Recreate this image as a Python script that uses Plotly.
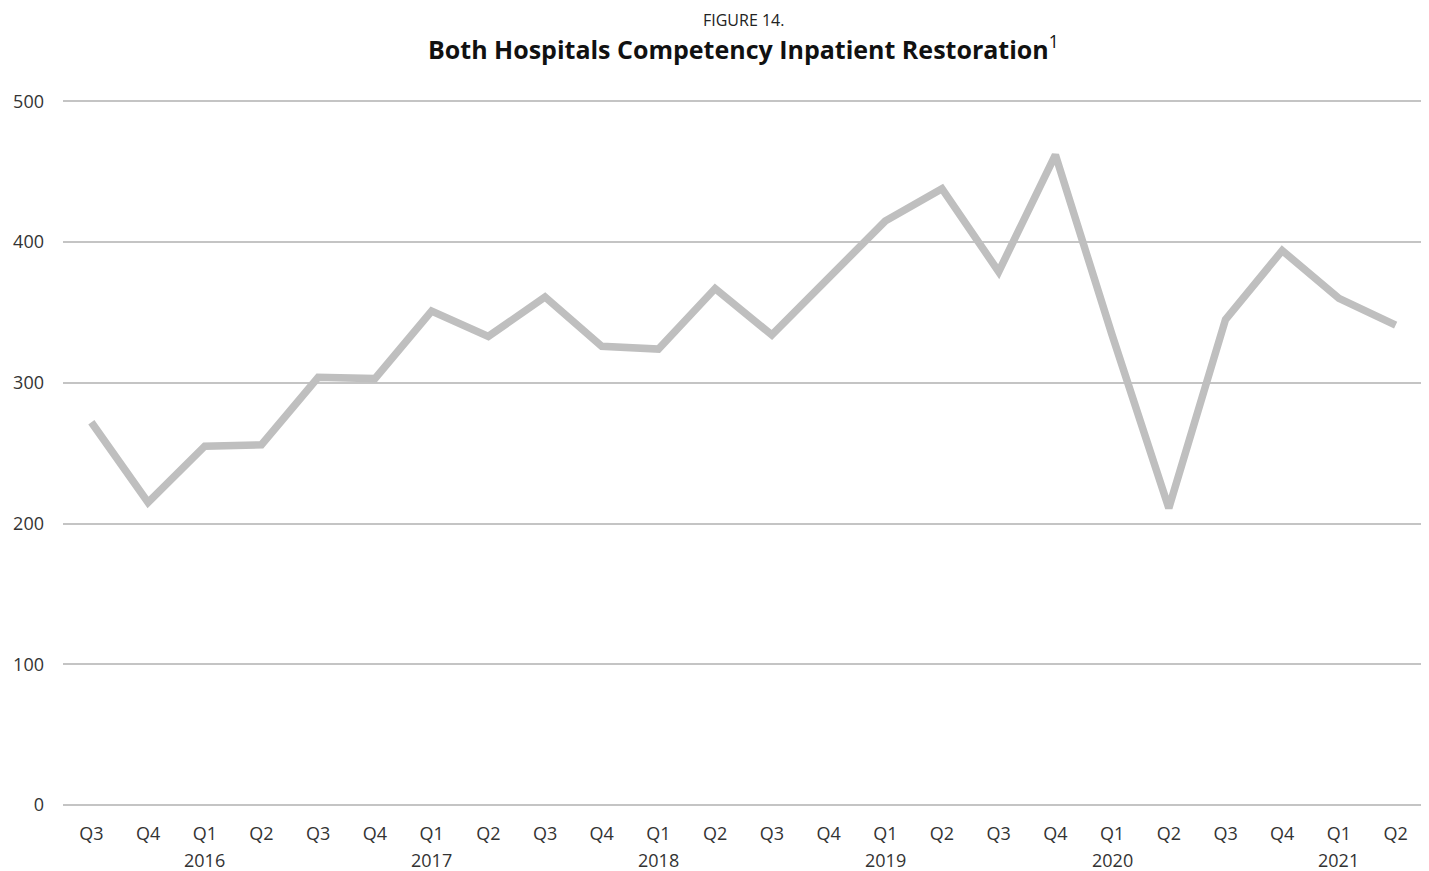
import plotly.graph_objects as go

# Quarterly inpatient restoration counts, Q3 2015 .. Q2 2021
QUARTERS = ['Q3', 'Q4', 'Q1', 'Q2', 'Q3', 'Q4', 'Q1', 'Q2', 'Q3', 'Q4', 'Q1', 'Q2',
            'Q3', 'Q4', 'Q1', 'Q2', 'Q3', 'Q4', 'Q1', 'Q2', 'Q3', 'Q4', 'Q1', 'Q2']
YEARS = ['', '', '2016', '', '', '', '2017', '', '', '', '2018', '',
         '', '', '2019', '', '', '', '2020', '', '', '', '2021', '']
PATIENTS = [272, 215, 255, 256, 304, 303, 351, 333, 361, 326, 324, 367,
            334, 375, 415, 438, 379, 462, 334, 211, 345, 394, 360, 341]

LINE_GREY = '#bfbfbf'
FONT = '"Open Sans", "Noto Sans", sans-serif'
xs = list(range(len(PATIENTS)))

fig = go.Figure()
fig.add_trace(go.Scatter(
    x=xs,
    y=PATIENTS,
    mode='lines',
    line=dict(color=LINE_GREY, width=7.5),
    hoverinfo='y'
))

# year labels under the Q1 ticks
year_notes = [
    dict(text=y, x=i, y=0, xref='x', yref='paper', yanchor='middle',
         yshift=-55, showarrow=False, font=dict(size=18, color='#333'))
    for i, y in zip(xs, YEARS) if y
]

fig.update_layout(
    width=1421,
    height=863,
    margin=dict(t=92, b=66, l=50, r=5),
    plot_bgcolor='#ffffff',
    paper_bgcolor='#ffffff',
    font=dict(family=FONT, color='#333', size=18),
    showlegend=False,
    annotations=[
        dict(text='FIGURE 14.', x=0.5, y=1, xref='paper', yref='paper',
             yanchor='middle', yshift=80, showarrow=False,
             font=dict(size=16, color='#222')),
        dict(text='<b>Both Hospitals Competency Inpatient Restoration</b><sup>1</sup>',
             x=0.5, y=1, xref='paper', yref='paper', yanchor='middle',
             yshift=53, showarrow=False, font=dict(size=25, color='#111')),
    ] + year_notes
)

fig.update_xaxes(
    range=[-0.5, len(PATIENTS) - 0.5],
    tickmode='array',
    tickvals=xs,
    ticktext=QUARTERS,
    showgrid=False,
    zeroline=False,
    showline=False,
    ticks='',
    tickfont=dict(size=18, color='#333'),
    ticklabelstandoff=16
)
fig.update_yaxes(
    range=[0, 501],
    dtick=100,
    showgrid=True,
    gridcolor='#c4c4c4',
    gridwidth=1.5,
    zeroline=True,
    zerolinecolor='#c4c4c4',
    zerolinewidth=1.5,
    showline=False,
    ticks='',
    tickfont=dict(size=18, color='#333'),
    ticklabelstandoff=18
)

fig.write_html("out.html")
